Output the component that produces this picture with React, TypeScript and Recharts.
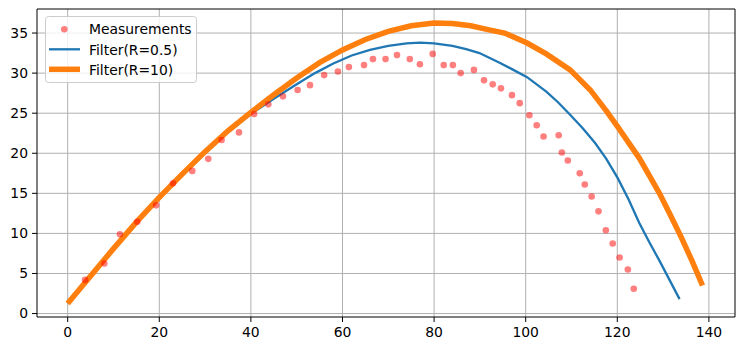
import React from 'react';
import { ComposedChart, Line, Scatter, XAxis, YAxis, CartesianGrid, Legend, ReferenceLine } from 'recharts';

const measX = [3.8, 8.0, 11.4, 15.2, 19.3, 23.0, 27.2, 30.7, 33.6, 37.4, 40.7, 43.8, 47.0, 50.2, 52.9, 56.0, 59.0, 61.4, 64.7, 66.65, 69.4, 71.9, 74.7, 76.9, 79.7, 82.1, 84.1, 85.8, 88.7, 90.9, 92.8, 94.6, 97.0, 98.7, 100.8, 102.4, 103.9, 107.2, 107.9, 109.2, 111.8, 112.9, 114.4, 115.9, 117.5, 119.0, 120.5, 122.3, 123.6];
const measY = [4.2, 6.25, 9.9, 11.45, 13.5, 16.25, 17.8, 19.3, 21.65, 22.6, 24.9, 26.1, 27.1, 27.9, 28.5, 29.75, 30.2, 30.75, 31.0, 31.75, 31.75, 32.25, 31.75, 31.1, 32.4, 31.0, 31.0, 30.0, 30.4, 29.1, 28.6, 28.1, 27.25, 26.25, 24.75, 23.5, 22.1, 22.25, 20.1, 19.1, 17.5, 16.1, 14.6, 12.75, 10.4, 8.75, 7.0, 5.5, 3.1];

const filterSmallX = [0, 5, 10, 15, 20, 25, 30, 35, 40, 45, 50, 54, 58, 62, 66, 70, 74, 77, 80, 84, 87, 89.9, 94.3, 97, 100.3, 104.5, 107, 109.7, 112.5, 115.2, 117.6, 120.1, 122.5, 124.8, 127, 129.2, 131.4, 133.6];
const filterSmallY = [1.25, 4.7, 8.1, 11.4, 14.5, 17.3, 20.0, 22.6, 24.9, 26.8, 28.6, 30.0, 31.2, 32.2, 32.9, 33.4, 33.7, 33.8, 33.7, 33.4, 33.0, 32.5, 31.3, 30.5, 29.5, 27.7, 26.4, 24.8, 23.1, 21.25, 19.3, 16.9, 14.2, 11.3, 8.9, 6.6, 4.2, 1.8];

const filterBigX = [0, 5, 10, 15, 20, 25, 30, 35, 40, 45, 50, 55, 60, 65, 70, 75, 80, 84, 88, 92, 95.4, 100.3, 104.5, 109.7, 114.1, 117.6, 120.1, 122.5, 124.8, 127, 129.2, 131.5, 133.9, 136.3, 138.6];
const filterBigY = [1.25, 4.7, 8.1, 11.4, 14.5, 17.4, 20.2, 22.8, 25.1, 27.3, 29.4, 31.3, 32.9, 34.2, 35.2, 35.9, 36.25, 36.2, 35.9, 35.4, 35.0, 33.75, 32.4, 30.4, 27.9, 25.3, 23.3, 21.3, 19.4, 17.2, 15.0, 12.4, 9.6, 6.6, 3.5];

const xTicks = [0, 20, 40, 60, 80, 100, 120, 140];
const yTicks = [0, 5, 10, 15, 20, 25, 30, 35];
const legendLabels = ['Measurements', 'Filter(R=0.5)', 'Filter(R=10)'];

const measurements = measX.map((x, i) => ({ x, y: measY[i] }));
const filterSmall = filterSmallX.map((x, i) => ({ x, y: filterSmallY[i] }));
const filterBig = filterBigX.map((x, i) => ({ x, y: filterBigY[i] }));

const xDomain: [number, number] = [-6.7, 145.7];
const yDomain: [number, number] = [-0.43, 38];
const FONT = '"DejaVu Sans", sans-serif';
const tickStyle = { fontSize: 13.9, fill: '#000', fontFamily: FONT };

const Dot = (props: any) => {
  const { cx, cy } = props;
  if (cx == null || cy == null) return null;
  return <circle cx={cx} cy={cy} r={3.3} fill="#ff0000" fillOpacity={0.5} />;
};

const LegendBox = () => (
  <svg width={153} height={68} style={{ display: 'block' }}>
    <rect x={0.5} y={0.5} width={151} height={66} rx={3} ry={3} fill="#ffffff" fillOpacity={0.8} stroke="#cccccc" strokeWidth={1} />
    <circle cx={19.3} cy={13.3} r={3.3} fill="#ff0000" fillOpacity={0.5} />
    <line x1={4} x2={35} y1={33.3} y2={33.3} stroke="#1f77b4" strokeWidth={2.3} />
    <line x1={4} x2={35} y1={53.3} y2={53.3} stroke="#ff7f0e" strokeWidth={5.5} />
    <text x={44} y={18.3} fontSize={13.9} fontFamily={FONT} fill="#000">{legendLabels[0]}</text>
    <text x={44} y={39} fontSize={13.9} fontFamily={FONT} fill="#000">{legendLabels[1]}</text>
    <text x={44} y={59.3} fontSize={13.9} fontFamily={FONT} fill="#000">{legendLabels[2]}</text>
  </svg>
);

export default function App() {
  return (
    <div style={{ position: 'absolute', left: 0, top: 0, width: 744, height: 351, background: '#fff' }}>
      <ComposedChart width={744} height={351} margin={{ top: 9, right: 9, left: 0, bottom: 0 }}>
        <CartesianGrid stroke="#b0b0b0" strokeWidth={1} horizontalValues={yTicks} verticalValues={xTicks} />
        <XAxis
          dataKey="x"
          type="number"
          domain={xDomain}
          ticks={xTicks}
          allowDataOverflow
          height={34}
          tickSize={5}
          tickMargin={5}
          stroke="#000"
          tick={tickStyle}
          interval={0}
        />
        <YAxis
          dataKey="y"
          type="number"
          domain={yDomain}
          ticks={yTicks}
          allowDataOverflow
          width={37}
          tickSize={5}
          tickMargin={4}
          stroke="#000"
          tick={tickStyle}
          interval={0}
        />
        <ReferenceLine x={xDomain[1]} stroke="#000" strokeWidth={1} ifOverflow="visible" />
        <ReferenceLine y={yDomain[1]} stroke="#000" strokeWidth={1} ifOverflow="visible" />
        <Scatter data={measurements} dataKey="y" shape={Dot} isAnimationActive={false} />
        <Line data={filterSmall} dataKey="y" type="linear" stroke="#1f77b4" strokeWidth={2.3} dot={false} activeDot={false} isAnimationActive={false} />
        <Line data={filterBig} dataKey="y" type="linear" stroke="#ff7f0e" strokeWidth={5.5} dot={false} activeDot={false} isAnimationActive={false} />
        <Legend
          layout="vertical"
          align="center"
          verticalAlign="middle"
          content={() => <LegendBox />}
          wrapperStyle={{ position: 'absolute', left: 45, top: 16, width: 153, height: 68, margin: 0, padding: 0 }}
        />
      </ComposedChart>
    </div>
  );
}
